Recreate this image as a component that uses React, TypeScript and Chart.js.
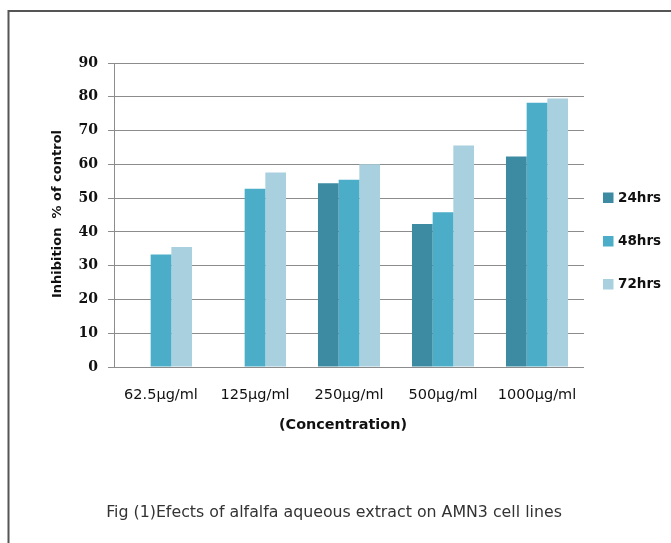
import React, { useEffect, useRef } from "react";
import { Chart, registerables } from "chart.js";

Chart.register(...registerables);

const categories = ["62.5µg/ml", "125µg/ml", "250µg/ml", "500µg/ml", "1000µg/ml"];
const hrs24 = [null, null, 54.4, 42.3, 62.3];
const hrs48 = [33.3, 52.8, 55.4, 45.8, 78.2];
const hrs72 = [35.5, 57.6, 60.0, 65.6, 79.5];
const seriesNames = ["24hrs", "48hrs", "72hrs"];
const seriesColors = ["#3D8BA3", "#4BADC7", "#A9D0DE"];
const yTicks = [0, 10, 20, 30, 40, 50, 60, 70, 80, 90];
const yTitle = "Inhibition  % of control";
const xTitle = "(Concentration)";
const caption = "Fig (1)Efects of alfalfa aqueous extract on AMN3 cell lines";

const W = 671;
const H = 543;

const decorPlugin = {
  id: "decor",
  afterDraw(chart: any) {
    const ctx = chart.ctx;
    ctx.save();
    // frame
    ctx.strokeStyle = "#555555";
    ctx.lineWidth = 2;
    ctx.beginPath();
    ctx.moveTo(8.5, H);
    ctx.lineTo(8.5, 11);
    ctx.lineTo(W, 11);
    ctx.stroke();

    // y title
    ctx.fillStyle = "#111111";
    ctx.font = "bold 13px 'DejaVu Sans'";
    ctx.textAlign = "center";
    ctx.textBaseline = "middle";
    ctx.save();
    ctx.translate(57.5, 214);
    ctx.rotate(-Math.PI / 2);
    ctx.fillText(yTitle, 0, 0);
    ctx.restore();

    // x title
    ctx.font = "bold 14.4px 'DejaVu Sans'";
    ctx.fillText(xTitle, 343, 425);

    // caption
    ctx.fillStyle = "#333333";
    ctx.font = "15.8px 'DejaVu Sans'";
    ctx.fillText(caption, 334, 513);

    // legend
    const datasets = chart.data.datasets;
    const rowY = [198, 241.5, 284.5];
    ctx.textAlign = "left";
    ctx.font = "bold 13.5px 'DejaVu Sans'";
    datasets.forEach((ds: any, i: number) => {
      const y = rowY[i];
      ctx.fillStyle = ds.backgroundColor;
      ctx.fillRect(603, y - 5.5, 10.5, 10.5);
      ctx.fillStyle = "#111111";
      ctx.fillText(ds.label, 618, y);
    });
    ctx.restore();
  },
};

export default function App() {
  const ref = useRef<HTMLCanvasElement>(null);
  useEffect(() => {
    if (!ref.current) return;
    const chart = new Chart(ref.current, {
      type: "bar",
      data: {
        labels: categories,
        datasets: [hrs24, hrs48, hrs72].map((d, i) => ({
          label: seriesNames[i],
          data: d,
          backgroundColor: seriesColors[i],
          borderWidth: 0,
          categoryPercentage: 0.66,
          barPercentage: 1,
        })),
      },
      options: {
        responsive: false,
        animation: false,
        layout: { padding: { top: 63, right: 87, left: 0, bottom: 0 } },
        plugins: {
          legend: { display: false },
          tooltip: { enabled: false },
          title: { display: false },
        },
        scales: {
          x: {
            grid: { display: false },
            border: { display: false },
            ticks: {
              color: "#111111",
              padding: 12,
              maxRotation: 0,
              autoSkip: false,
              font: { family: "'DejaVu Sans'", size: 14.5 },
            },
            afterFit: (scale: any) => {
              scale.height = H - 367;
            },
          },
          y: {
            min: 0,
            max: 90,
            afterBuildTicks: (scale: any) => {
              scale.ticks = yTicks.map((v) => ({ value: v }));
            },
            grid: { color: "#8c8c8c", lineWidth: 1, tickLength: 6 },
            border: { display: true, color: "#8c8c8c", width: 1 },
            ticks: {
              color: "#111111",
              padding: 10,
              font: { family: "'DejaVu Serif'", size: 14, weight: "bold" },
            },
            afterFit: (scale: any) => {
              scale.width = 114;
            },
          },
        },
      },
      plugins: [decorPlugin],
    });
    return () => chart.destroy();
  }, []);
  return (
    <div style={{ position: "absolute", left: 0, top: 0, width: W, height: H, background: "#ffffff" }}>
      <canvas ref={ref} width={W} height={H} style={{ display: "block", width: W, height: H }} />
    </div>
  );
}
